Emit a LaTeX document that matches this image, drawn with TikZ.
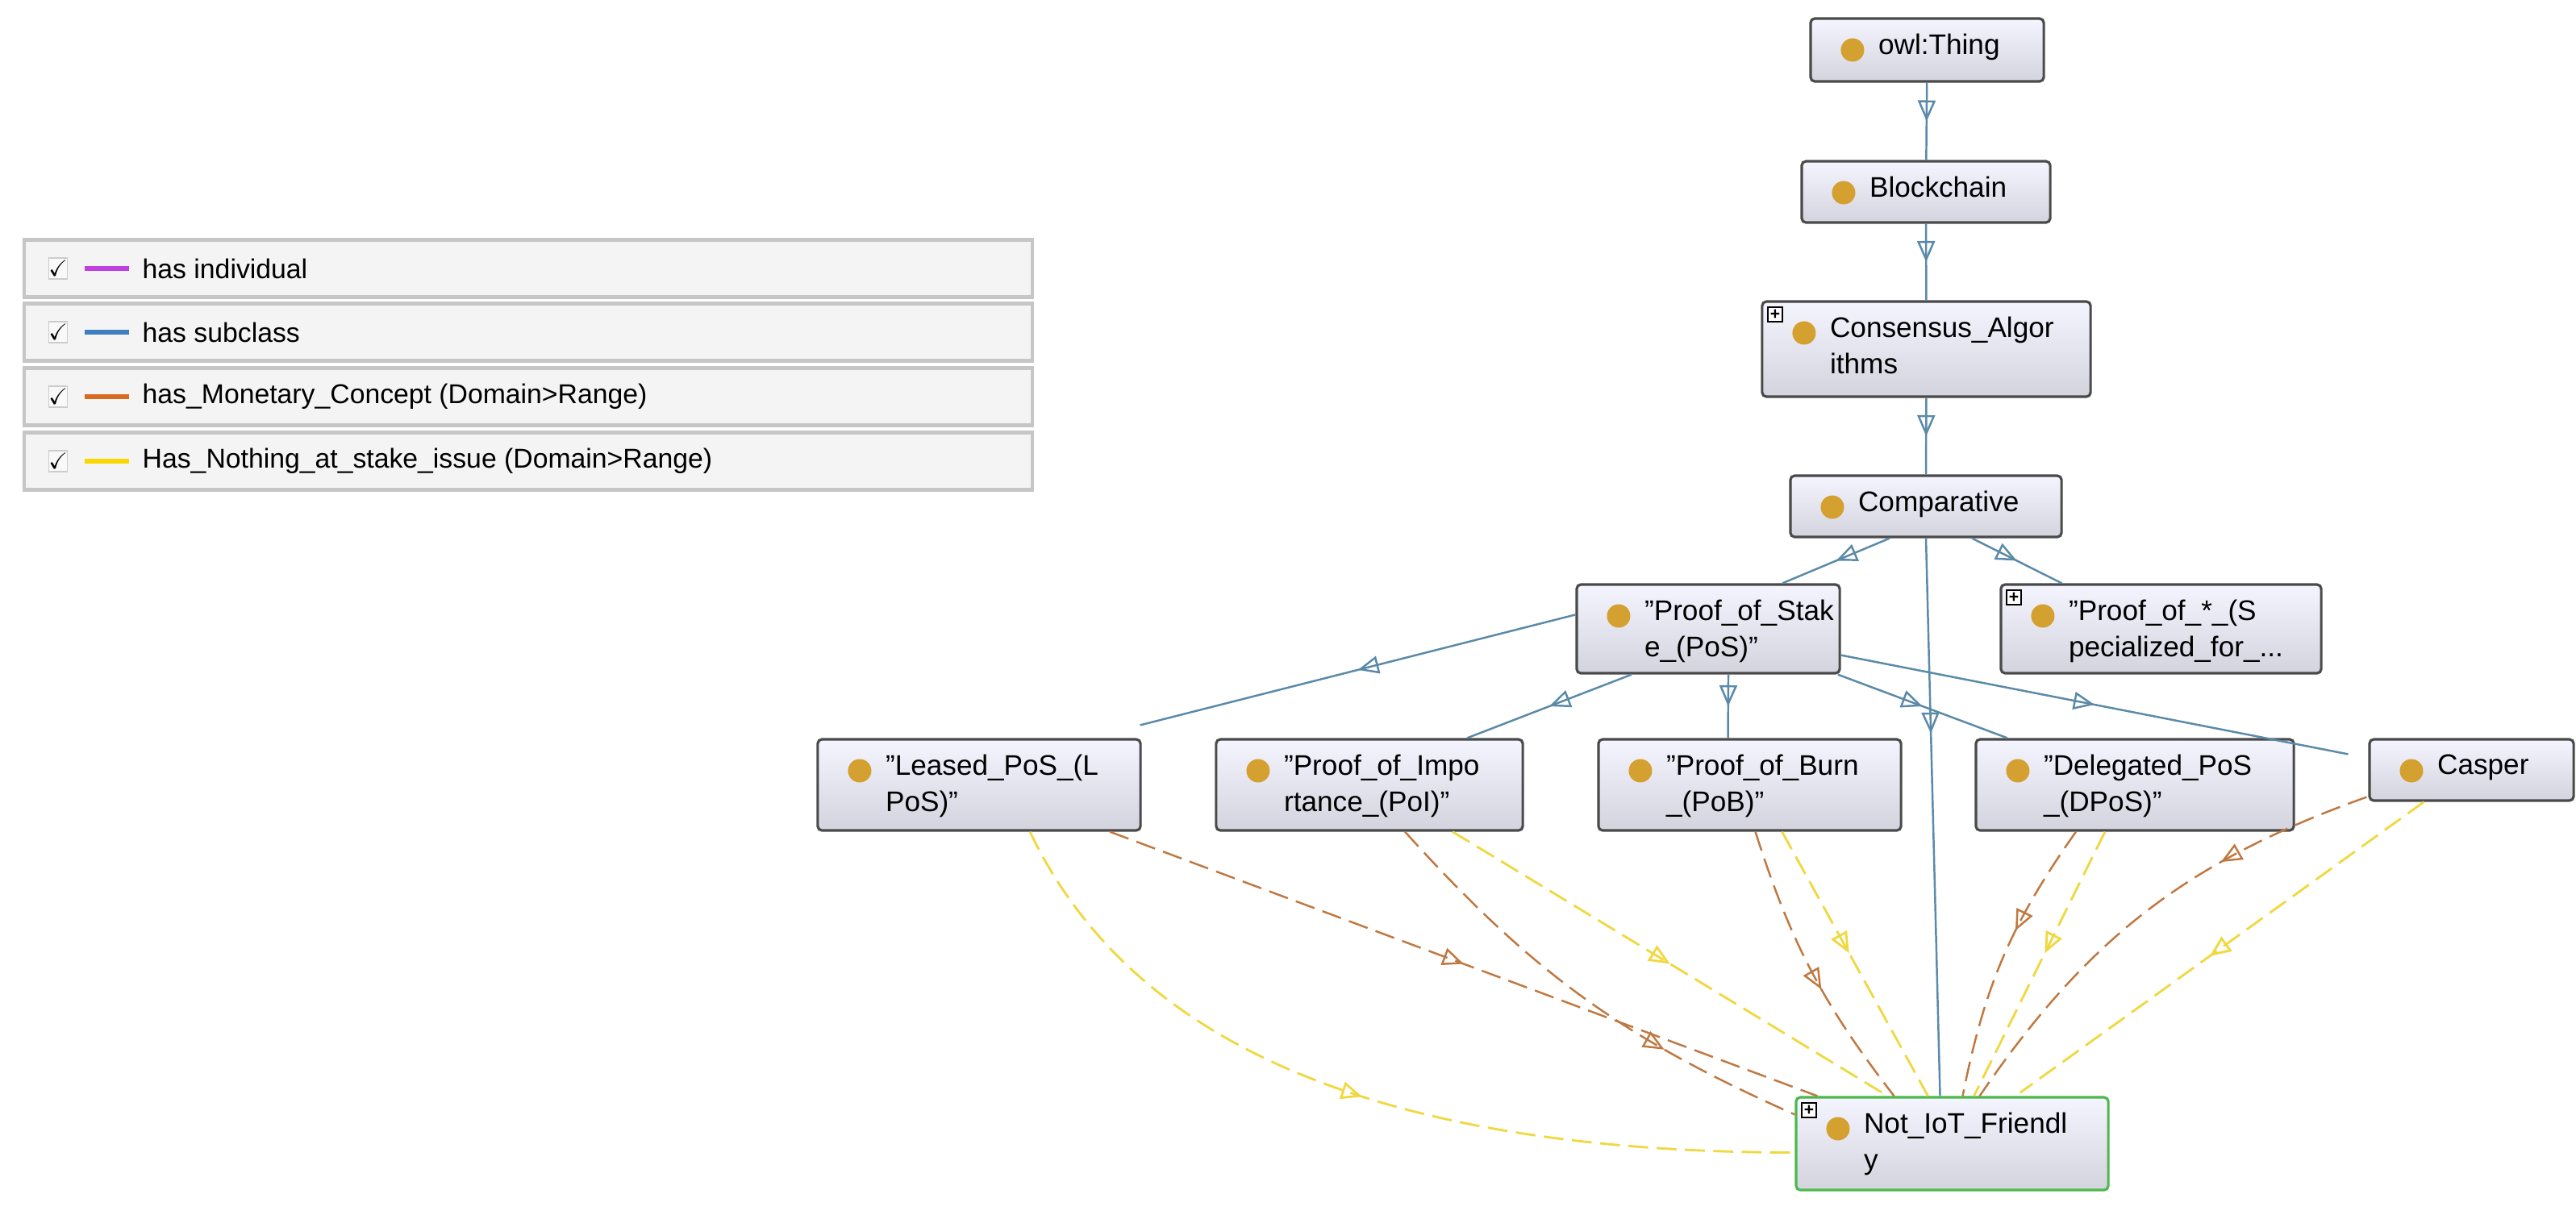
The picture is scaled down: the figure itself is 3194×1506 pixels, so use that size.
\documentclass[tikz,border=0pt]{standalone}
\usepackage{fontspec}
\setmainfont{Liberation Sans}
\usepackage{amssymb}
\usetikzlibrary{arrows.meta,decorations.markings,calc,shadows}
\definecolor{sub}{HTML}{5A8AA8}
\definecolor{mon}{HTML}{C07840}
\definecolor{nth}{HTML}{F0D840}
\definecolor{dotc}{HTML}{D4A030}
\definecolor{bord}{HTML}{4A4A4A}
\definecolor{lc1}{HTML}{C040E0}
\definecolor{lc2}{HTML}{3D7EBF}
\definecolor{lc3}{HTML}{D86A20}
\definecolor{lc4}{HTML}{F8D800}
\tikzset{
  x=0.01cm, y=-0.01cm,
  cls/.style 2 args={draw=bord, line width=0.9pt, rounded corners=1.5pt,
    top color=white!96!blue, bottom color=blue!14!gray!30,
    minimum width=#1cm, minimum height=#2cm, inner sep=0pt,
    path picture={\fill[dotc] ([xshift=0.52cm,yshift=-0.39cm]path picture bounding box.north west) circle (0.145cm);}},
  txt/.style={label={[anchor=north west, xshift=0.85cm, yshift=-0.2cm, align=left, inner sep=0pt,
    font=\fontsize{10}{12.8}\selectfont]north west:#1}},
  plus/.style={label={[draw=black, line width=0.4pt, fill=white, minimum size=0.18cm, inner sep=0pt,
      anchor=north west, xshift=0.08cm, yshift=-0.08cm, font=\fontsize{6}{6}\selectfont\bfseries]north west:+}},
  mid/.style={decoration={markings, mark=at position #1 with {\arrow[solid]{Triangle[open,length=0.26cm,width=0.22cm]}}}, postaction={decorate}},
  subc/.style={draw=sub, line width=0.7pt, mid=#1},
  subc/.default=0.5,
  monc/.style={draw=mon, line width=0.7pt, dash pattern=on 7pt off 3pt, mid=#1},
  nthc/.style={draw=nth, line width=0.8pt, dash pattern=on 7pt off 3pt, mid=#1},
  legrow/.style={draw=gray!45, line width=1.2pt, fill=gray!9, minimum width=12.5cm, minimum height=0.71cm, inner sep=0pt},
  legtxt/.style={anchor=west, inner sep=0pt, font=\fontsize{9.6}{11}\selectfont},
  chk/.style={draw=gray!40, fill=gray!5, minimum width=0.22cm, minimum height=0.26cm, inner sep=0pt, font=\fontsize{8}{8}\selectfont}
}
\begin{document}
\begin{tikzpicture}
\useasboundingbox (0,0) rectangle (3194,1506);
\fill[white] (0,0) rectangle (3194,1506);

% legend
\foreach \i/\y/\t in {1/333/has individual,2/412/has subclass,3/492/has\_Monetary\_Concept (Domain>Range),4/572/Has\_Nothing\_at\_stake\_issue (Domain>Range)}{
  \node[legrow] (row\i) at (655,\y) {};
  \node[chk] (chk\i) at (72,\y) {$\checkmark$};
  \draw[lc\i, line width=1.6pt] (105,\y) -- (160,\y);
  \node[legtxt] (lt\i) at (176,\y) {\t};
}

% classes
\node[cls={2.89}{0.78}, txt={owl:Thing}] (owl) at (2389.5,62) {};
\node[cls={3.08}{0.76}, txt={Blockchain}] (blk) at (2388,238) {};
\node[cls={4.07}{1.18}, plus, txt={Consensus\_Algor\\ithms}] (cons) at (2388.5,433) {};
\node[cls={3.36}{0.76}, txt={Comparative}] (comp) at (2388,628) {};
\node[cls={3.26}{1.10}, txt={"Proof\_of\_Stak\\e\_(PoS)"}] (pos) at (2118,780) {};
\node[cls={3.97}{1.10}, plus, txt={"Proof\_of\_*\_(S\\pecialized\_for\_...}] (posx) at (2679.5,780) {};
\node[cls={4.00}{1.13}, txt={"Leased\_PoS\_(L\\PoS)"}] (lpos) at (1214,973.5) {};
\node[cls={3.80}{1.13}, txt={"Proof\_of\_Impo\\rtance\_(PoI)"}] (poi) at (1698,973.5) {};
\node[cls={3.75}{1.13}, txt={"Proof\_of\_Burn\\\_(PoB)"}] (pob) at (2169.5,973.5) {};
\node[cls={3.94}{1.13}, txt={"Delegated\_PoS\\\_(DPoS)"}] (dpos) at (2647,973.5) {};
\node[cls={2.53}{0.76}, txt={Casper}] (casp) at (3064.5,955) {};
\node[cls={3.87}{1.15}, draw=green!60!black!70, plus, txt={Not\_IoT\_Friendl\\y}] (nit) at (2420.5,1418.5) {};

% subclass edges
\draw[subc] (owl) -- (blk);
\draw[subc] (blk) -- (cons);
\draw[subc] (cons) -- (comp);
\draw[subc] ([xshift=-0.45cm]comp.south) -- ([xshift=0.92cm]pos.north);
\draw[subc] ([xshift=0.57cm]comp.south) -- ([xshift=-1.23cm]posx.north);
\draw[subc=0.35] (comp.south) -- ([xshift=-0.15cm]nit.north);
\draw[subc] ([yshift=-0.39cm]pos.north west) -- ([xshift=-0.02cm,yshift=0.16cm]lpos.north east);
\draw[subc] ([xshift=-0.95cm]pos.south) -- ([xshift=1.21cm]poi.north);
\draw[subc] ([xshift=0.25cm]pos.south) -- ([xshift=-0.27cm]pob.north);
\draw[subc] ([xshift=-0.04cm]pos.south east) -- ([xshift=-1.58cm]dpos.north);
\draw[subc] ([yshift=0.24cm]pos.south east) -- ([xshift=-0.25cm,yshift=-0.2cm]casp.north west);

% object property edges
\draw[nthc=0.5] ([xshift=0.63cm]lpos.south) .. controls (1400,1290) and (1700,1429) .. ([yshift=-0.11cm]nit.west);
\draw[monc=0.5] ([xshift=1.62cm]lpos.south) -- ([xshift=0.28cm]nit.north west);
\draw[monc=0.7] ([xshift=0.44cm]poi.south) to[bend right=12] ([yshift=-0.23cm]nit.north west);
\draw[nthc=0.5] ([xshift=1.03cm]poi.south) -- ([xshift=-0.8cm]nit.north);
\draw[monc=0.57] ([xshift=0.07cm]pob.south) to[bend right=10] ([xshift=-0.72cm]nit.north);
\draw[nthc=0.46] ([xshift=0.4cm]pob.south) -- ([xshift=-0.3cm]nit.north);
\draw[monc=0.4] ([xshift=-0.73cm]dpos.south) to[bend right=12] ([xshift=0.13cm]nit.north);
\draw[nthc=0.46] ([xshift=-0.37cm]dpos.south) -- ([xshift=0.27cm]nit.north);
\draw[monc=0.32] ([xshift=-0.02cm,yshift=0.06cm]casp.south west) to[bend right=18] ([xshift=0.34cm]nit.north);
\draw[nthc=0.53] ([xshift=0.69cm]casp.south west) -- ([xshift=0.84cm,yshift=0.04cm]nit.north);
\end{tikzpicture}
\end{document}
